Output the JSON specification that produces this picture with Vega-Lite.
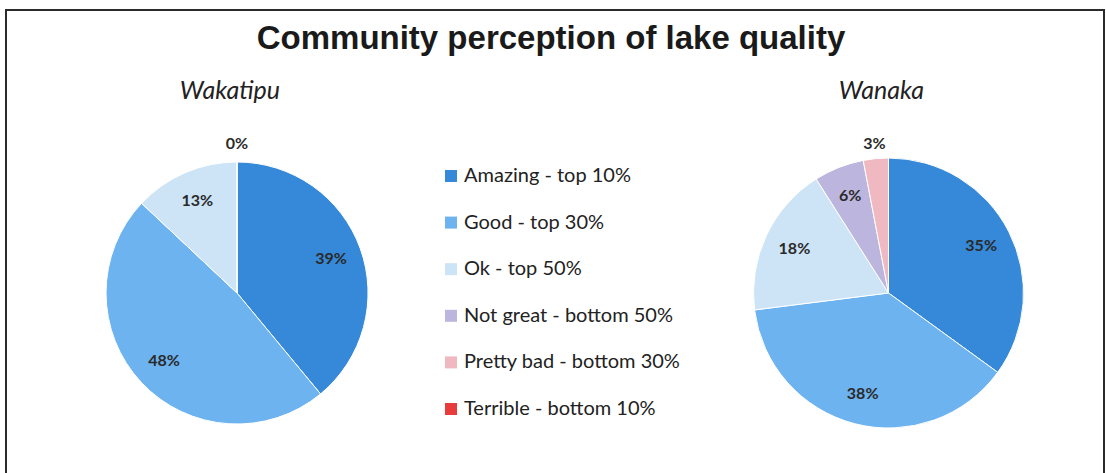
{
  "$schema": "https://vega.github.io/schema/vega-lite/v6.json",
  "width": 1106,
  "height": 473,
  "autosize": {"type": "fit", "contains": "padding"},
  "padding": {"left": 6, "top": 10, "right": 2, "bottom": -4},
  "background": "white",
  "title": {
    "text": "Community perception of lake quality",
    "font": "Liberation Sans",
    "fontSize": 33,
    "fontWeight": "bold",
    "color": "#1a1a1a",
    "anchor": "middle",
    "frame": "group",
    "baseline": "alphabetic",
    "offset": 0,
    "dy": 72,
    "dx": -4
  },
  "config": {"view": {"stroke": "#2b2b2b", "strokeWidth": 2}},
  "datasets": {
    "lakes": [
      {"lake": "Wakatipu", "category": "Amazing - top 10%", "idx": 1, "pct": 0.39},
      {"lake": "Wakatipu", "category": "Good - top 30%", "idx": 2, "pct": 0.48},
      {"lake": "Wakatipu", "category": "Ok - top 50%", "idx": 3, "pct": 0.13},
      {"lake": "Wakatipu", "category": "Not great - bottom 50%", "idx": 4, "pct": 0.0},
      {"lake": "Wanaka", "category": "Amazing - top 10%", "idx": 1, "pct": 0.35},
      {"lake": "Wanaka", "category": "Good - top 30%", "idx": 2, "pct": 0.38},
      {"lake": "Wanaka", "category": "Ok - top 50%", "idx": 3, "pct": 0.18},
      {"lake": "Wanaka", "category": "Not great - bottom 50%", "idx": 4, "pct": 0.06},
      {"lake": "Wanaka", "category": "Pretty bad - bottom 30%", "idx": 5, "pct": 0.03}
    ],
    "names": [{"lake": "Wakatipu"}, {"lake": "Wanaka"}]
  },
  "data": {"name": "lakes"},
  "encoding": {
    "x": {"field": "lake", "type": "nominal", "axis": null,
      "scale": {"type": "point", "domain": ["Wakatipu", "Wanaka"], "padding": 0.3427, "align": 0.5174}},
    "y": {"datum": "pie", "type": "nominal", "axis": null,
      "scale": {"type": "point", "domain": ["pie"], "align": 0.606}}
  },
  "layer": [
    {
      "transform": [{"filter": "datum.lake === 'Wakatipu'"}],
      "mark": {"type": "arc", "outerRadius": 131, "stroke": "white", "strokeWidth": 1},
      "encoding": {
        "theta": {"field": "pct", "type": "quantitative", "stack": true},
        "order": {"field": "idx", "type": "quantitative"},
        "color": {"field": "category", "type": "nominal",
          "scale": {
            "domain": ["Amazing - top 10%", "Good - top 30%", "Ok - top 50%", "Not great - bottom 50%", "Pretty bad - bottom 30%", "Terrible - bottom 10%"],
            "range": ["#3589D8", "#6DB3EF", "#CDE4F7", "#BCB6DE", "#F0B9C2", "#E83B3B"]
          },
          "legend": {
            "orient": "none", "legendX": 435, "legendY": 156, "title": null,
            "symbolType": "square", "symbolSize": 144, "symbolStrokeWidth": 0,
            "labelFont": "Lato", "labelFontSize": 20, "labelColor": "#222", "labelLimit": 400,
            "rowPadding": 26.6, "labelOffset": 3, "padding": 0
          }
        }
      }
    },
    {
      "transform": [{"filter": "datum.lake === 'Wanaka'"}],
      "mark": {"type": "arc", "outerRadius": 135, "stroke": "white", "strokeWidth": 1},
      "encoding": {
        "theta": {"field": "pct", "type": "quantitative", "stack": true},
        "order": {"field": "idx", "type": "quantitative"},
        "color": {"field": "category", "type": "nominal"}
      }
    },
    {
      "transform": [{"filter": "datum.lake === 'Wakatipu'"}],
      "mark": {"type": "text", "radius": 100, "font": "Lato", "fontSize": 16, "fontWeight": "bold", "fill": "#2a2a2a"},
      "encoding": {
        "theta": {"field": "pct", "type": "quantitative", "stack": true},
        "order": {"field": "idx", "type": "quantitative"},
        "detail": {"field": "category"},
        "text": {"field": "pct", "type": "quantitative", "format": ".0%"},
        "opacity": {"condition": {"test": "datum.pct < 0.05", "value": 0}, "value": 1}
      }
    },
    {
      "transform": [{"filter": "datum.lake === 'Wakatipu'"}],
      "mark": {"type": "text", "radius": 149, "font": "Lato", "fontSize": 16, "fontWeight": "bold", "fill": "#2a2a2a"},
      "encoding": {
        "theta": {"field": "pct", "type": "quantitative", "stack": true},
        "order": {"field": "idx", "type": "quantitative"},
        "detail": {"field": "category"},
        "text": {"field": "pct", "type": "quantitative", "format": ".0%"},
        "opacity": {"condition": {"test": "datum.pct < 0.05", "value": 1}, "value": 0}
      }
    },
    {
      "transform": [{"filter": "datum.lake === 'Wanaka'"}],
      "mark": {"type": "text", "radius": 104, "font": "Lato", "fontSize": 16, "fontWeight": "bold", "fill": "#2a2a2a"},
      "encoding": {
        "theta": {"field": "pct", "type": "quantitative", "stack": true},
        "order": {"field": "idx", "type": "quantitative"},
        "detail": {"field": "category"},
        "text": {"field": "pct", "type": "quantitative", "format": ".0%"},
        "opacity": {"condition": {"test": "datum.pct < 0.05", "value": 0}, "value": 1}
      }
    },
    {
      "transform": [{"filter": "datum.lake === 'Wanaka'"}],
      "mark": {"type": "text", "radius": 150, "font": "Lato", "fontSize": 16, "fontWeight": "bold", "fill": "#2a2a2a"},
      "encoding": {
        "theta": {"field": "pct", "type": "quantitative", "stack": true},
        "order": {"field": "idx", "type": "quantitative"},
        "detail": {"field": "category"},
        "text": {"field": "pct", "type": "quantitative", "format": ".0%"},
        "opacity": {"condition": {"test": "datum.pct < 0.05", "value": 1}, "value": 0}
      }
    },
    {
      "data": {"name": "names"},
      "mark": {"type": "text", "radius": 202, "theta": -0.035, "font": "Lato", "fontStyle": "italic", "fontSize": 25, "fill": "#222"},
      "encoding": {"text": {"field": "lake", "type": "nominal"}}
    }
  ]
}
